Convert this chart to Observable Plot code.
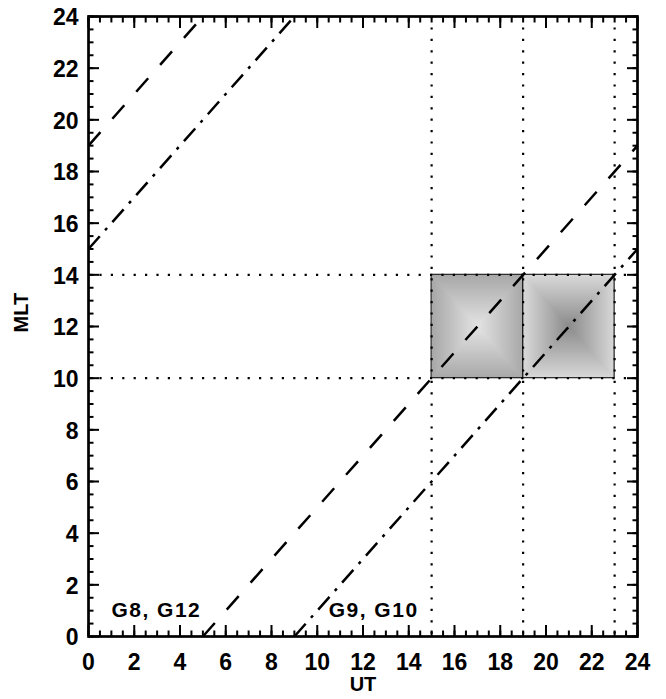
<!DOCTYPE html>
<html>
<head>
<meta charset="utf-8">
<script src="https://cdn.jsdelivr.net/npm/d3@7"></script>
<script src="https://cdn.jsdelivr.net/npm/@observablehq/plot@0.6"></script>
<style>
  html, body { margin: 0; padding: 0; background: #fff; }
  svg { display: block; }
</style>
</head>
<body>
<div id="chart"></div>
<script>
// Local-time tracks (MLT against UT), each wrapping once at 24 h
const g8StartUT = [0, 5];
const g8StartMLT = [19, 0];
const g8EndUT = [5, 24];
const g8EndMLT = [24, 19];

const g9StartUT = [0, 9];
const g9StartMLT = [15, 0];
const g9EndUT = [9, 24];
const g9EndMLT = [24, 15];

// Reference times and the noon sector
const utMarks = [15, 19, 23];
const mltMarks = [10, 14];

// Shaded conjunction windows: UT span, MLT span, grey level at centre and rim
const boxUT1 = [15, 19];
const boxUT2 = [19, 23];
const boxMLT1 = [10, 10];
const boxMLT2 = [14, 14];
const boxCenterGray = [228, 140];
const boxRimGray = [168, 218];

// Spacecraft pair labels
const labelText = ["G8, G12", "G9, G10"];
const labelUT = [1.0, 10.5];
const labelMLT = [1.0, 1.0];

// Axis titles and ticks
const xTitle = ["UT"];
const yTitle = ["MLT"];
const majorTicks = [0, 2, 4, 6, 8, 10, 12, 14, 16, 18, 20, 22, 24];
const minorTicks = d3.range(0, 24.001, 0.5);

// Pyramid shading: grey level varies with the larger of the two normalised offsets
function pyramid(i) {
  const cx = (boxUT1[i] + boxUT2[i]) / 2, hx = (boxUT2[i] - boxUT1[i]) / 2;
  const cy = (boxMLT1[i] + boxMLT2[i]) / 2, hy = (boxMLT2[i] - boxMLT1[i]) / 2;
  return (x, y) => {
    const t = Math.max(Math.abs((x - cx) / hx), Math.abs((y - cy) / hy));
    return boxCenterGray[i] + (boxRimGray[i] - boxCenterGray[i]) * Math.min(1, t);
  };
}

const boxes = boxUT1.map((_, i) =>
  Plot.raster({
    fill: pyramid(i),
    x1: boxUT1[i], x2: boxUT2[i], y1: boxMLT1[i], y2: boxMLT2[i],
    width: 184, height: 206,
    imageRendering: "auto"
  })
);

// Inward-pointing ticks on every side of the box
function inward(axis, anchor, ticks, size) {
  return axis({anchor, ticks, tickSize: -size, fill: "none", label: null, strokeWidth: 2});
}

const tickFont = 23;
const titleFont = 20;

const chart = Plot.plot({
  width: 666,
  height: 699,
  marginLeft: 88,
  marginRight: 29,
  marginTop: 16,
  marginBottom: 63,
  x: {domain: [0, 24]},
  y: {domain: [0, 24]},
  color: {
    type: "linear",
    domain: [0, 255],
    interpolate: (t) => d3.rgb(255 * t, 255 * t, 255 * t)
  },
  style: {
    fontFamily: "'Liberation Sans', Arial, Helvetica, sans-serif",
    fontWeight: "bold",
    background: "#fff",
    color: "#000",
    overflow: "visible"
  },
  marks: [
    ...boxes,
    Plot.rect(boxUT1.map((_, i) => i), {
      x1: (i) => boxUT1[i], x2: (i) => boxUT2[i],
      y1: (i) => boxMLT1[i], y2: (i) => boxMLT2[i],
      fill: "none", stroke: "#222", strokeWidth: 1.2
    }),
    Plot.ruleX(utMarks, {stroke: "#000", strokeWidth: 2.2, strokeDasharray: "2.2,9.2"}),
    Plot.ruleY(mltMarks, {stroke: "#000", strokeWidth: 2.2, strokeDasharray: "2.2,9.2"}),
    Plot.link(g8StartUT, {
      x1: g8StartUT, y1: g8StartMLT, x2: g8EndUT, y2: g8EndMLT,
      stroke: "#000", strokeWidth: 2.5, strokeDasharray: "18,18"
    }),
    Plot.link(g9StartUT, {
      x1: g9StartUT, y1: g9StartMLT, x2: g9EndUT, y2: g9EndMLT,
      stroke: "#000", strokeWidth: 2.5, strokeDasharray: "17,8,3,8"
    }),
    Plot.text(labelText, {
      x: labelUT, y: labelMLT, text: (d) => d,
      textAnchor: "start", fontSize: 21, fill: "#000"
    }),
    inward(Plot.axisX, "bottom", majorTicks, 11),
    inward(Plot.axisX, "bottom", minorTicks, 5.5),
    inward(Plot.axisX, "top", majorTicks, 11),
    inward(Plot.axisX, "top", minorTicks, 5.5),
    inward(Plot.axisY, "left", majorTicks, 11),
    inward(Plot.axisY, "left", minorTicks, 5.5),
    inward(Plot.axisY, "right", majorTicks, 11),
    inward(Plot.axisY, "right", minorTicks, 5.5),
    Plot.axisX({
      anchor: "bottom", ticks: majorTicks, tickSize: 0, tickPadding: 17,
      tickFormat: (d) => String(d), fontSize: tickFont, label: null
    }),
    Plot.axisY({
      anchor: "left", ticks: majorTicks, tickSize: 0, tickPadding: 10,
      tickFormat: (d) => String(d), fontSize: tickFont, dy: 1.5, label: null
    }),
    Plot.text(xTitle, {
      frameAnchor: "bottom", text: (d) => d, dy: 54,
      fontSize: titleFont, fill: "#000"
    }),
    Plot.text(yTitle, {
      frameAnchor: "left", text: (d) => d, dx: -67, dy: 6, rotate: -90,
      fontSize: titleFont, fill: "#000"
    }),
    Plot.frame({stroke: "#000", strokeWidth: 2.7})
  ]
});

// The pair labels are set a little wider, as in the original plotting font
d3.select(chart).selectAll("text")
  .filter(function () { return labelText.includes(this.textContent); })
  .style("letter-spacing", "1.5px");

document.getElementById("chart").appendChild(chart);
</script>
</body>
</html>
